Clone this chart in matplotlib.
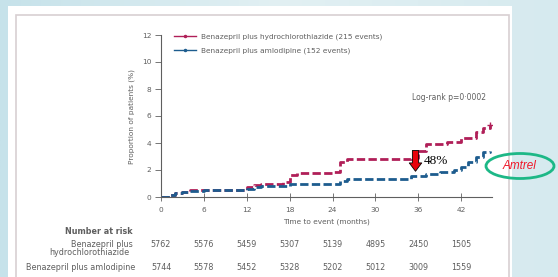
import numpy as np
import matplotlib
matplotlib.use("Agg")
import matplotlib.pyplot as plt
from matplotlib.patches import Rectangle, Ellipse

# cumulative incidence (months, %)
hctz_t = [0, 1, 2, 3, 4, 6, 8, 11, 12, 13, 14, 17, 18, 19, 24, 25, 26, 35, 36, 37, 40, 42, 44, 45, 46]
hctz_v = [0, 0.15, 0.3, 0.4, 0.5, 0.5, 0.55, 0.55, 0.75, 0.9, 1.0, 1.1, 1.6, 1.75, 1.85, 2.6, 2.8, 2.9, 3.4,
          3.9, 4.1, 4.4, 4.8, 5.1, 5.3]
aml_t = [0, 1, 2, 3, 4, 6, 8, 11, 12, 13, 14, 17, 18, 24, 25, 26, 34, 35, 37, 39, 41, 42, 43, 44, 45, 46]
aml_v = [0, 0.15, 0.3, 0.4, 0.45, 0.5, 0.5, 0.5, 0.6, 0.75, 0.8, 0.85, 0.95, 1.0, 1.2, 1.3, 1.35, 1.55,
         1.7, 1.85, 2.0, 2.2, 2.6, 3.0, 3.3, 3.4]

x_ticks = [0, 6, 12, 18, 24, 30, 36, 42]
y_ticks = [0, 2, 4, 6, 8, 10, 12]
risk_hctz = ["5762", "5576", "5459", "5307", "5139", "4895", "2450", "1505"]
risk_aml = ["5744", "5578", "5452", "5328", "5202", "5012", "3009", "1559"]

lab_hctz = "Benazepril plus hydrochlorothiazide (215 events)"
lab_aml = "Benazepril plus amlodipine (152 events)"
c_hctz = "#b01f58"
c_aml = "#1d5c8e"
grey = "#5f5f5f"

W, H = 558, 277
fig = plt.figure(figsize=(W / 100, H / 100), dpi=100)

# slide background gradient + white panel
bg = fig.add_axes([0, 0, 1, 1], zorder=-10)
grad = np.linspace(0, 1, 256)[None, :]
bg.imshow(grad, cmap=matplotlib.colors.LinearSegmentedColormap.from_list("b", ["#c6e2ea", "#e2f0f3", "#d6eaef"]),
          aspect="auto", extent=[0, 1, 0, 1])
bg.set_xlim(0, 1)
bg.set_ylim(0, 1)
bg.axis("off")
bg.add_patch(Rectangle((8 / W, 0), 504 / W, 1 - 6 / H, fc="white", ec="none"))
bg.add_patch(Rectangle((16 / W, -0.05), 493 / W, 1 - 15 / H + 0.05, fc="none", ec="#d8cfd2", lw=1.2))

ax = fig.add_axes([161 / W, 80 / H, 331 / W, 162 / H])
ax.step(hctz_t, hctz_v, where="post", color=c_hctz, lw=2, ls=(0, (3, 1.2)))
ax.step(aml_t, aml_v, where="post", color=c_aml, lw=2, ls=(0, (3, 1.2)))
ax.plot(hctz_t[-1], hctz_v[-1], marker="+", color=c_hctz, ms=5, mew=1)

ax.set_xlim(0, 46.3)
ax.set_ylim(0, 12)
ax.set_xticks(x_ticks)
ax.set_yticks(y_ticks)
ax.tick_params(axis="both", labelsize=5.3, colors=grey, width=0.6)
ax.tick_params(axis="x", direction="inout", length=6, pad=4)
ax.tick_params(axis="y", length=4, pad=3)
for s in ["top", "right"]:
    ax.spines[s].set_visible(False)
for s in ["left", "bottom"]:
    ax.spines[s].set_color(grey)
    ax.spines[s].set_linewidth(0.8)
ax.set_xlabel("Time to event (months)", fontsize=5.3, color=grey, labelpad=4)
ax.set_ylabel("Proportion of patients (%)", fontsize=5.3, color=grey, labelpad=5)

h1, = ax.plot([], [], color=c_hctz, lw=1, marker="o", ms=1.5)
h2, = ax.plot([], [], color=c_aml, lw=1, marker="o", ms=1.5)
ax.legend([h1, h2], [lab_hctz, lab_aml], loc="upper left", bbox_to_anchor=(0.02, 1.05), frameon=False,
          fontsize=5.3, labelcolor=grey, handlelength=3, labelspacing=1.0, handletextpad=0.6)

ax.text(45.5, 7.4, "Log-rank p=0\u00b70002", fontsize=5.5, color=grey, ha="right", va="center")

# number at risk table
fs = 5.8
ax.text(-3.9, -2.55, "Number at risk", fontsize=fs, fontweight="bold",
        color=grey, ha="right", va="center", clip_on=False)
ax.text(-3.9, -3.5, "Benazepril plus", fontsize=fs, color=grey, ha="right", va="center", clip_on=False)
ax.text(-4.4, -4.1, "hydrochlorothiazide", fontsize=fs, color=grey, ha="right", va="center", clip_on=False)
ax.text(-3.6, -5.25, "Benazepril plus amlodipine", fontsize=fs, color=grey, ha="right", va="center",
        clip_on=False)
for xt, a, b in zip(x_ticks, risk_hctz, risk_aml):
    ax.text(xt, -3.5, a, fontsize=fs, color=grey, ha="center", va="center", clip_on=False)
    ax.text(xt, -5.25, b, fontsize=fs, color=grey, ha="center", va="center", clip_on=False)

# overlay annotation: arrow, percentage, brand ellipse
ax.annotate("", xy=(35.6, 1.7), xytext=(35.6, 3.65),
            arrowprops=dict(arrowstyle="simple,head_length=0.6,head_width=0.9,tail_width=0.45",
                            fc="#e8000b", ec="black", lw=0.6))
ax.text(36.7, 2.7, "48%", fontsize=9.5, family="Liberation Serif", color="black", ha="left", va="center")

ov = fig.add_axes([0, 0, 1, 1], zorder=5)
ov.set_xlim(0, W)
ov.set_ylim(H, 0)
ov.axis("off")
ov.add_patch(Ellipse((520, 166), 68, 25, fc="none", ec="#1db887", lw=2))
ov.text(520, 166, "Amtrel", fontsize=8.5, style="italic", family="Liberation Sans", color="#f0182a",
        ha="center", va="center")

fig.savefig("out.png", dpi=100)
